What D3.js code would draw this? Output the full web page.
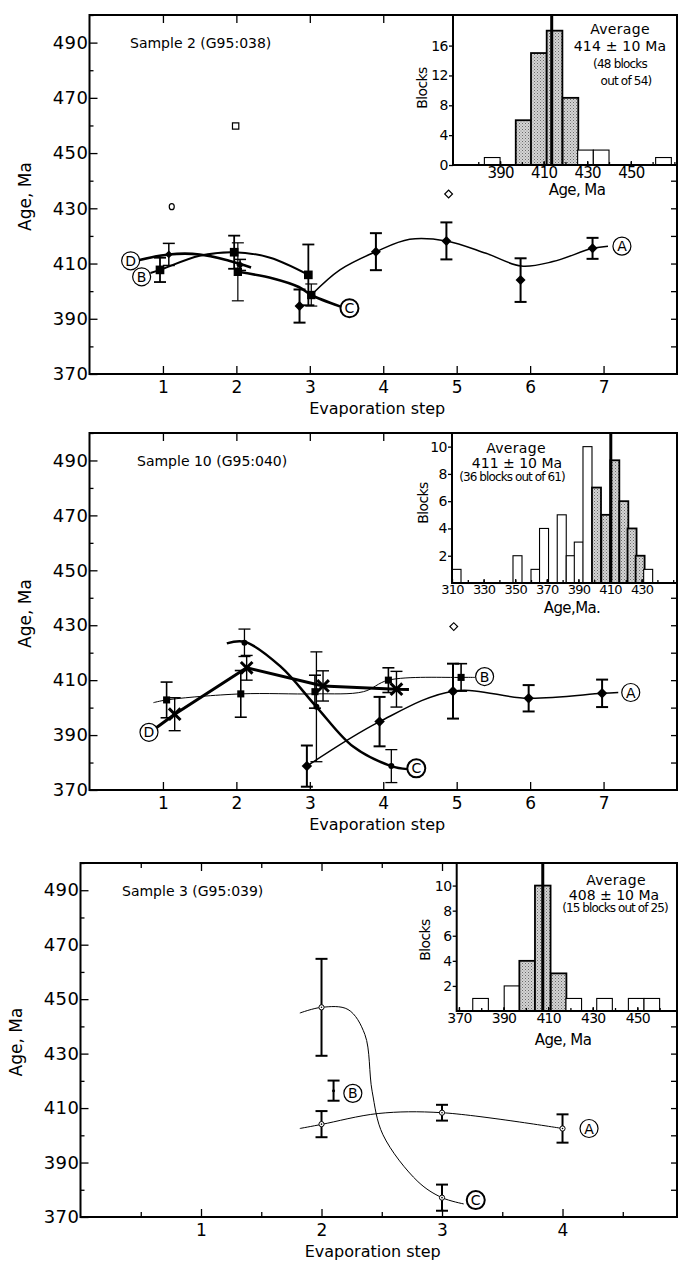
<!DOCTYPE html>
<html>
<head>
<meta charset="utf-8">
<script src="https://cdnjs.cloudflare.com/ajax/libs/d3/7.8.5/d3.min.js"></script>
<style>
  body { margin: 0; background: #fff; }
  svg { display: block; }
</style>
</head>
<body>
<svg id="chart" width="679" height="1262"></svg>
<script>
// ---------- data ----------
const ageDomain = [370, 500];
const ageLabels = [370, 390, 410, 430, 450, 470, 490];
const ageMinor = [380, 400, 420, 440, 460, 480, 500];
const ageRightTicks = d3.range(380, 500, 10);

// points: [step, age, ±error]; fits: [step, age] along the drawn curve
// Sample 2 (G95:038)
const s2A = [[2.86, 394.6, 6], [3.9, 414.3, 6.7], [4.86, 418.2, 6.7], [5.87, 404, 7.9], [6.85, 415.5, 3.8]];
const s2Afit = [[3.02, 398.6], [3.41, 407.7], [3.9, 414.3], [4.36, 418.8], [4.86, 418.2], [5.4, 413.7], [5.88, 409.1], [6.31, 410.7], [6.85, 415.5], [7.06, 416.3]];
const s2B = [[0.96, 407.7, 4.4], [1.97, 414.1, 6], [2.98, 405.9, 11]];
const s2Bfit = [[0.83, 406.6], [0.96, 407.7], [1.5, 412.8], [1.97, 414.1], [2.46, 412.1], [2.98, 405.9]];
const s2C = [[2.02, 407, 10.5], [3.02, 398.6, 4]];
const s2Cfit = [[2.02, 407], [2.5, 404.6], [2.85, 401.5], [3.02, 398.6], [3.42, 394.4]];
const s2D = [[1.08, 413.3, 4], [2.05, 409.5, 2]];
const s2Dfit = [[0.68, 411.3], [1.08, 413.3], [1.5, 413.3], [1.9, 411], [2.2, 408.6]];
const s2Open = [[1.12, 430.6, "circle"], [1.99, 459.8, "square"], [4.89, 435.2, "diamond"]];
const s2Labels = [[7.25, 416.3, "A"], [0.71, 405.2, "B"], [3.54, 393.8, "C"], [0.56, 411, "D"]];

// Sample 10 (G95:040)
const s10A = [[2.96, 378.7, 7.5], [3.95, 394.9, 9], [4.95, 406, 10], [5.98, 403.4, 4.8], [6.98, 405.2, 5]];
const s10Afit = [[2.96, 378.7], [3.95, 394.9], [4.95, 406], [5.98, 403.4], [6.98, 405.2], [7.2, 405.5]];
const s10B = [[1.05, 402.8, 6.5], [2.06, 405, 8.5], [3.07, 405.8, 6], [4.07, 410, 4.5], [5.06, 411, 5]];
const s10Bfit = [[0.87, 401.8], [1.05, 402.8], [2.06, 405], [3.07, 405], [3.73, 405.8], [4.07, 410], [5.06, 411], [5.25, 411]];
const s10C = [[2.11, 423.6, 5], [3.09, 400.3, 20], [4.11, 378.7, 6]];
const s10Cfit = [[1.87, 423.4], [2.11, 424], [2.6, 415], [3.09, 400.3], [3.59, 385.8], [4.11, 378.7], [4.33, 377.6]];
const s10D = [[1.16, 397.6, 6], [2.14, 414.5, 4.5], [3.18, 407.9, 5.5], [4.18, 406.7, 6.5]];
const s10Dfit = [[0.9, 392.5], [1.16, 397.6], [2.14, 414.5], [3.18, 407.9], [4.18, 406.7], [4.35, 406.6]];
const s10Open = [[4.96, 429.5, "diamond"]];
const s10Labels = [[7.37, 405.5, "A"], [5.38, 411.3, "B"], [4.45, 377.9, "C"], [0.81, 391, "D"]];

// Sample 3 (G95:039)
const s3A = [[2.0, 404.1, 4.8], [3.0, 408.3, 2.9], [4.0, 402.5, 5.2]];
const s3Afit = [[1.82, 402.5], [2.0, 404], [2.47, 408], [3.0, 408.3], [4.0, 402.5]];
const s3B = [[2.1, 416.4, 3.7]];
const s3C = [[2.0, 447, 17.8], [3.0, 377.1, 4.8]];
const s3Cfit = [[1.82, 444.9], [2.0, 447], [2.22, 446.2], [2.36, 437], [2.42, 416.2], [2.51, 400.2], [2.8, 383], [3.0, 377.1], [3.18, 374.8]];
const s3Labels = [[4.22, 402.5, "A"], [2.26, 415.4, "B"], [3.28, 376.2, "C"]];

// histograms: bin start (Ma), count, accepted flag
const h2Start = [382.8, 397.2, 404.2, 411.4, 418.7, 425.6, 432.8, 461.4];
const h2Count = [1, 6, 15, 18, 9, 2, 2, 1];
const h2Acc = [0, 1, 1, 1, 1, 0, 0, 0];
const h2Width = 7.2, h2Avg = 413.7, h2XDom = [368.4, 471.2], h2YDom = [0, 20.1];
const h2XTicks = [390, 410, 430, 450], h2YTicks = [0, 4, 8, 12, 16];

const h10Start = [310, 348.6, 360, 365.4, 376.6, 382.3, 387.4, 392.9, 398.6, 404.5, 410.2, 415.9, 421.1, 426.2, 431.3];
const h10Count = [1, 2, 1, 4, 5, 2, 3, 10, 7, 5, 9, 6, 4, 2, 1];
const h10Acc = [0, 0, 0, 0, 0, 0, 0, 0, 1, 1, 1, 1, 1, 1, 0];
const h10Width = 5.7, h10Avg = 410.5, h10XDom = [310, 452.4], h10YDom = [0, 11];
const h10XTicks = [310, 330, 350, 370, 390, 410, 430], h10YTicks = [2, 4, 6, 8, 10];

const h3Start = [376.2, 390.3, 397.1, 404.1, 411.2, 418, 431.8, 446, 453];
const h3Count = [1, 2, 4, 10, 3, 1, 1, 1, 1];
const h3Acc = [0, 0, 1, 1, 1, 0, 0, 0, 0];
const h3Width = 7, h3Avg = 407.6, h3XDom = [369, 467.8], h3YDom = [0, 11.8];
const h3XTicks = [370, 390, 410, 430, 450], h3YTicks = [2, 4, 6, 8, 10];

// ---------- drawing ----------
const FONT = "'DejaVu Sans', sans-serif";
const svg = d3.select("#chart");

const pat = svg.append("defs").append("pattern")
  .attr("id", "stipple").attr("width", 3).attr("height", 3)
  .attr("patternUnits", "userSpaceOnUse");
pat.append("rect").attr("width", 3).attr("height", 3).attr("fill", "#d4d4d4");
pat.append("rect").attr("width", 1).attr("height", 1).attr("fill", "#6a6a6a");
pat.append("rect").attr("x", 1.5).attr("y", 1.5).attr("width", 1).attr("height", 1).attr("fill", "#8a8a8a");

function styleAxis(sel, size, spacing) {
  sel.select(".domain").remove();
  sel.selectAll("line").attr("stroke", "#000").attr("stroke-width", 1.3);
  sel.selectAll("text").attr("font-family", FONT).attr("font-size", size)
    .attr("fill", "#000").attr("letter-spacing", spacing || 0);
}

function txt(g, x, y, s, size, anchor) {
  return g.append("text").attr("x", x).attr("y", y).text(s)
    .attr("font-family", FONT).attr("font-size", size)
    .attr("text-anchor", anchor || "start").attr("fill", "#000");
}

function drawPanel(p) {
  const b = p.box;
  const g = svg.append("g");
  const x = d3.scaleLinear().domain([0, p.xMax]).range([b.l, b.r]);
  const y = d3.scaleLinear().domain(ageDomain).range([b.b, b.t]);

  // axes
  g.append("g").attr("transform", `translate(${b.l},0)`)
    .call(d3.axisLeft(y).tickValues(ageLabels).tickSizeInner(-8).tickSizeOuter(0).tickPadding(1).tickFormat(d3.format("d")))
    .call(styleAxis, 18, 0.5);
  g.append("g").attr("transform", `translate(${b.l},0)`)
    .call(d3.axisLeft(y).tickValues(ageMinor).tickSizeInner(-4).tickSizeOuter(0).tickFormat(""))
    .call(styleAxis, 10);
  g.append("g").attr("transform", `translate(${b.r},0)`)
    .call(d3.axisRight(y).tickValues(ageRightTicks).tickSizeInner(-6).tickSizeOuter(0).tickFormat(""))
    .call(styleAxis, 10);
  g.append("g").attr("transform", `translate(0,${b.b})`)
    .call(d3.axisBottom(x).tickValues(p.steps).tickSizeInner(-8).tickSizeOuter(0).tickPadding(7).tickFormat(d3.format("d")))
    .call(styleAxis, 17);
  g.append("g").attr("transform", `translate(0,${b.t})`)
    .call(d3.axisTop(x).tickValues(p.steps).tickSizeInner(-8).tickSizeOuter(0).tickFormat(""))
    .call(styleAxis, 10);
  if (p.halfSteps) {
    g.append("g").attr("transform", `translate(0,${b.b})`)
      .call(d3.axisBottom(x).tickValues(p.halfSteps).tickSizeInner(-5).tickSizeOuter(0).tickFormat(""))
      .call(styleAxis, 10);
    g.append("g").attr("transform", `translate(0,${b.t})`)
      .call(d3.axisTop(x).tickValues(p.halfSteps).tickSizeInner(-5).tickSizeOuter(0).tickFormat(""))
      .call(styleAxis, 10);
  }

  g.append("rect").attr("x", b.l).attr("y", b.t)
    .attr("width", b.r - b.l).attr("height", b.b - b.t)
    .attr("fill", "none").attr("stroke", "#000").attr("stroke-width", 2);

  txt(g, (b.l + b.r) / 2 - 6, b.b + 40, "Evaporation step", 16, "middle");
  txt(g, 0, 0, "Age, Ma", 17, "middle")
    .attr("transform", `translate(${b.l - 59},${(b.t + b.b) / 2 + 2}) rotate(-90)`);
  txt(g, p.titleX, b.t + 33, p.title, 14);

  const line = d3.line().x(d => x(d[0])).y(d => y(d[1])).curve(d3.curveCatmullRom.alpha(0.5));

  p.series.forEach(s => {
    if (s.fit) {
      g.append("path").datum(s.fit)
        .attr("d", s.linear ? d3.line().x(d => x(d[0])).y(d => y(d[1]))(s.fit) : line(s.fit))
        .attr("fill", "none").attr("stroke", "#000").attr("stroke-width", s.lw)
        .attr("stroke-linejoin", "round");
    }
    const eb = g.append("g").attr("stroke", "#000").attr("stroke-width", s.bw);
    s.pts.forEach(d => {
      const cx = x(d[0]), y1 = y(d[1] + d[2]), y2 = y(d[1] - d[2]);
      eb.append("line").attr("x1", cx).attr("x2", cx).attr("y1", y1).attr("y2", y2);
      eb.append("line").attr("x1", cx - 6).attr("x2", cx + 6).attr("y1", y1).attr("y2", y1);
      eb.append("line").attr("x1", cx - 6).attr("x2", cx + 6).attr("y1", y2).attr("y2", y2);
    });
    s.pts.forEach(d => {
      const cx = x(d[0]), cy = y(d[1]);
      if (s.mark === "diamond") {
        g.append("path").attr("d", d3.symbol(d3.symbolSquare, s.size)())
          .attr("transform", `translate(${cx},${cy}) rotate(45)`).attr("fill", "#000");
      } else if (s.mark === "square") {
        g.append("path").attr("d", d3.symbol(d3.symbolSquare, s.size)())
          .attr("transform", `translate(${cx},${cy})`).attr("fill", "#000");
      } else if (s.mark === "times") {
        g.append("path").attr("d", d3.symbol(d3.symbolTimes, s.size)())
          .attr("transform", `translate(${cx},${cy})`).attr("fill", "none")
          .attr("stroke", "#000").attr("stroke-width", 3);
      } else if (s.mark === "dot") {
        g.append("circle").attr("cx", cx).attr("cy", cy).attr("r", s.size).attr("fill", "#000");
      } else if (s.mark === "ring") {
        g.append("circle").attr("cx", cx).attr("cy", cy).attr("r", 2.6)
          .attr("fill", "#fff").attr("stroke", "#000").attr("stroke-width", 1);
        g.append("circle").attr("cx", cx).attr("cy", cy).attr("r", 0.8).attr("fill", "#000");
      }
    });
  });

  (p.open || []).forEach(d => {
    const cx = x(d[0]), cy = y(d[1]);
    if (d[2] === "circle") {
      g.append("ellipse").attr("cx", cx).attr("cy", cy).attr("rx", 2.5).attr("ry", 3)
        .attr("fill", "none").attr("stroke", "#000").attr("stroke-width", 1.2);
    } else {
      g.append("path").attr("d", d3.symbol(d3.symbolSquare, d[2] === "square" ? 40 : 30)())
        .attr("transform", `translate(${cx},${cy}) rotate(${d[2] === "diamond" ? 45 : 0})`)
        .attr("fill", "none").attr("stroke", "#000").attr("stroke-width", 1.2);
    }
  });

  p.labels.forEach(d => {
    const cx = x(d[0]), cy = y(d[1]);
    g.append("circle").attr("cx", cx).attr("cy", cy).attr("r", 9)
      .attr("fill", "#fff").attr("stroke", "#000").attr("stroke-width", d[2] === "C" ? 2 : 1.2);
    txt(g, cx, cy + 5, d[2], 14, "middle");
  });
}

function drawInset(h) {
  const b = h.box;
  const g = svg.append("g");
  const x = d3.scaleLinear().domain(h.xDom).range([b.l, b.r]);
  const y = d3.scaleLinear().domain(h.yDom).range([b.b, b.t]);
  g.append("rect").attr("x", b.l).attr("y", b.t).attr("width", b.r - b.l).attr("height", b.b - b.t)
    .attr("fill", "#fff");

  g.selectAll(".bar").data(h.start).enter().append("rect")
    .attr("x", d => x(d)).attr("width", d => x(d + h.width) - x(d))
    .attr("y", (d, i) => y(h.count[i])).attr("height", (d, i) => y(0) - y(h.count[i]))
    .attr("fill", (d, i) => h.acc[i] ? "url(#stipple)" : "#fff")
    .attr("stroke", "#000").attr("stroke-width", (d, i) => h.acc[i] ? 1.8 : 1.1);

  g.append("line").attr("x1", x(h.avg)).attr("x2", x(h.avg)).attr("y1", b.t).attr("y2", b.b)
    .attr("stroke", "#000").attr("stroke-width", 3);

  g.append("g").attr("transform", `translate(${b.l},0)`)
    .call(d3.axisLeft(y).tickValues(h.yTicks).tickSizeInner(4).tickSizeOuter(0).tickPadding(1))
    .call(styleAxis, 14, -0.5);
  g.append("g").attr("transform", `translate(0,${b.b})`)
    .call(d3.axisBottom(x).tickValues(h.xTicks).tickSizeInner(-4).tickSizeOuter(0).tickPadding(2))
    .call(styleAxis, h.tickFont, -0.8);
  const minor = d3.range(h.xTicks[0] - 10, h.xDom[1], 10).filter(v => v > h.xDom[0] && v < h.xDom[1]);
  g.append("g").attr("transform", `translate(0,${b.b})`)
    .call(d3.axisBottom(x).tickValues(minor).tickSizeInner(-3).tickSizeOuter(0).tickFormat(""))
    .call(styleAxis, 10);

  g.append("rect").attr("x", b.l).attr("y", b.t).attr("width", b.r - b.l).attr("height", b.b - b.t)
    .attr("fill", "none").attr("stroke", "#000").attr("stroke-width", 2);

  txt(g, 0, 0, "Blocks", 14, "middle").attr("letter-spacing", -0.6)
    .attr("transform", `translate(${h.blocksX},${h.blocksY}) rotate(-90)`);
  txt(g, h.ageX, h.ageY, h.ageText, 15, "middle").attr("letter-spacing", -0.6);
  h.notes.forEach(n => {
    txt(g, n[0], n[1], n[2], n[3], "middle").attr("letter-spacing", n[4]);
  });
}

drawPanel({
  box: { l: 89.5, r: 677, t: 15, b: 374 }, xMax: 8, steps: [1, 2, 3, 4, 5, 6, 7],
  title: "Sample 2 (G95:038)", titleX: 130,
  series: [
    { pts: s2A, fit: s2Afit, mark: "diamond", size: 50, lw: 1.5, bw: 2 },
    { pts: s2B, fit: s2Bfit, mark: "square", size: 75, lw: 2, bw: 1.8 },
    { pts: s2C, fit: s2Cfit, mark: "square", size: 70, lw: 2.6, bw: 1.2 },
    { pts: s2D, fit: s2Dfit, mark: "diamond", size: 30, lw: 2.6, bw: 1.5 }
  ],
  open: s2Open, labels: s2Labels
});
drawInset({
  box: { l: 453, r: 677, t: 15, b: 165 }, xDom: h2XDom, yDom: h2YDom,
  start: h2Start, count: h2Count, acc: h2Acc, width: h2Width, avg: h2Avg,
  xTicks: h2XTicks, yTicks: h2YTicks, tickFont: 15,
  blocksX: 427, blocksY: 88, ageX: 577, ageY: 195, ageText: "Age, Ma",
  notes: [[620, 34, "Average", 14, 0.3], [620, 51, "414 \u00b1 10 Ma", 14, 0.2],
          [620, 68, "(48 blocks", 12, -0.8], [626, 85, "out of 54)", 12, -0.8]]
});

drawPanel({
  box: { l: 89.5, r: 677, t: 433, b: 790 }, xMax: 8, steps: [1, 2, 3, 4, 5, 6, 7],
  title: "Sample 10 (G95:040)", titleX: 137,
  series: [
    { pts: s10B, fit: s10Bfit, mark: "square", size: 50, lw: 1, bw: 1.6 },
    { pts: s10A, fit: s10Afit, mark: "diamond", size: 55, lw: 1.5, bw: 2 },
    { pts: s10C, fit: s10Cfit, mark: "dot", size: 3, lw: 2.5, bw: 1.3 },
    { pts: s10D, fit: s10Dfit, mark: "times", size: 90, lw: 3, bw: 1.4, linear: true }
  ],
  open: s10Open, labels: s10Labels
});
drawInset({
  box: { l: 452, r: 677, t: 433, b: 583 }, xDom: h10XDom, yDom: h10YDom,
  start: h10Start, count: h10Count, acc: h10Acc, width: h10Width, avg: h10Avg,
  xTicks: h10XTicks, yTicks: h10YTicks, tickFont: 13,
  blocksX: 428, blocksY: 503, ageX: 572, ageY: 613, ageText: "Age,Ma.",
  notes: [[516, 453, "Average", 14, 0.3], [517, 468, "411 \u00b1 10 Ma", 14, 0],
          [512, 481, "(36 blocks out of 61)", 12, -0.9]]
});

drawPanel({
  box: { l: 80.5, r: 677, t: 863, b: 1217 }, xMax: 4.95, steps: [1, 2, 3, 4],
  halfSteps: [0.5, 1.5, 2.5, 3.5, 4.5],
  title: "Sample 3 (G95:039)", titleX: 122,
  series: [
    { pts: s3A, fit: s3Afit, mark: "ring", lw: 1, bw: 2 },
    { pts: s3B, mark: "dot", size: 1.5, lw: 1, bw: 2 },
    { pts: s3C, fit: s3Cfit, mark: "ring", lw: 1, bw: 2 }
  ],
  labels: s3Labels
});
drawInset({
  box: { l: 456.7, r: 677, t: 863, b: 1011 }, xDom: h3XDom, yDom: h3YDom,
  start: h3Start, count: h3Count, acc: h3Acc, width: h3Width, avg: h3Avg,
  xTicks: h3XTicks, yTicks: h3YTicks, tickFont: 14,
  blocksX: 430, blocksY: 940, ageX: 563, ageY: 1045, ageText: "Age, Ma",
  notes: [[616, 885, "Average", 14, 0.3], [614, 900, "408 \u00b1 10 Ma", 14, 0],
          [615, 912, "(15 blocks out of 25)", 12, -0.9]]
});
</script>
</body>
</html>
